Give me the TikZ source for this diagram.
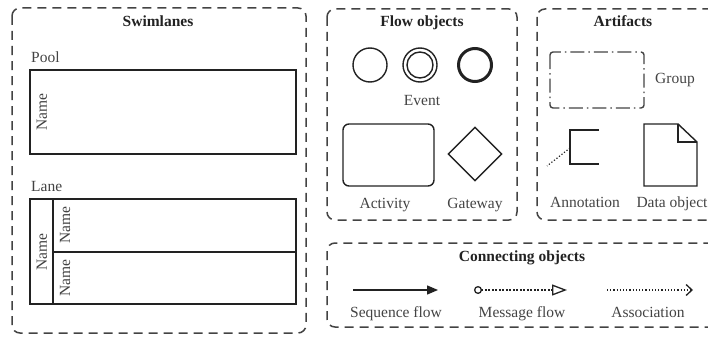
\documentclass[tikz,border=0pt]{standalone}
\usepackage{fontspec}
\setmainfont{Liberation Serif}
\usetikzlibrary{arrows.meta,shapes.geometric,shapes.misc}
\definecolor{ink}{HTML}{222222}
\tikzset{
  grp/.style={draw=ink!85,line width=1.5pt,dash pattern=on 9pt off 6pt,rounded corners=8pt},
  ttl/.style={font=\fontsize{15.5}{18}\selectfont\bfseries,text=ink,inner sep=0pt,anchor=base},
  lbl/.style={font=\fontsize{15.5}{18}\selectfont,text=ink!85,inner sep=0pt,anchor=base},
  rot/.style={font=\fontsize{15.5}{18}\selectfont,text=ink!85,inner sep=0pt,rotate=90},
  shp/.style={draw=ink,line width=1.4pt},
}
\begin{document}
\begin{tikzpicture}[x=1pt,y=-1pt]
\clip (0,0) rectangle (708,337);
\useasboundingbox (0,0) rectangle (708,337);
% group boxes
\draw[grp] (12,8) rectangle (306,333);
\draw[grp] (327,9) rectangle (517,220);
\draw[grp] (537,9) rectangle (730,220);
\draw[grp] (327,243) rectangle (730,327);
\node[ttl] (tswim) at (158,27) {Swimlanes};
\node[ttl] (tflow) at (422,27) {Flow objects};
\node[ttl] (tart) at (623,27) {Artifacts};
\node[ttl] (tconn) at (522,261) {Connecting objects};
% swimlanes
\node[lbl,anchor=base west] (lpool) at (31,62) {Pool};
\draw[shp] (30,70) rectangle (296,154);
\node[rot] (npool) at (42,112) {Name};
\node[lbl,anchor=base west] (llane) at (31,191) {Lane};
\draw[shp] (30,199) rectangle (296,304);
\draw[shp] (53,199) -- (53,304);
\draw[shp] (53,252) -- (296,252);
\node[rot] (nlane) at (42,252) {Name};
\node[rot] (nl1) at (65,225) {Name};
\node[rot] (nl2) at (65,278) {Name};
% flow objects
\node[shp,circle,minimum size=34pt,inner sep=0pt] (e1) at (370,65) {};
\node[shp,circle,minimum size=34pt,inner sep=0pt] (e2) at (420,65) {};
\node[shp,circle,minimum size=26pt,inner sep=0pt] (e2i) at (420,65) {};
\node[draw=ink,line width=3pt,circle,minimum size=33pt,inner sep=0pt] (e3) at (475,65) {};
\node[lbl] (tevent) at (422,105) {Event};
\draw[shp,rounded corners=6pt] (343,124) rectangle (434,186);
\node[shp,diamond,minimum width=54pt,minimum height=54pt,inner sep=0pt] (gw) at (475,154) {};
\node[lbl] (tact) at (385,208) {Activity};
\node[lbl] (tgw) at (475,208) {Gateway};
% artifacts
\draw[draw=ink!85,line width=1.4pt,dash pattern=on 14pt off 4pt on 1.5pt off 4pt,rounded corners=3pt] (550,52) rectangle (644,108);
\node[lbl] (tgroup) at (675,83) {Group};
\draw[shp] (599,130) -- (570,130) -- (570,164) -- (599,164);
\coordinate (annA) at (570,148);
\coordinate (annB) at (547,166);
\draw[draw=ink,line width=1.2pt,dotted] (annA) -- (annB);
\draw[shp,line join=miter] (644,124) -- (678,124) -- (697,142) -- (697,186) -- (644,186) -- cycle;
\draw[shp,line join=miter] (678,124) -- (678,142) -- (697,142);
\node[lbl] (tann) at (585,207) {Annotation};
\node[lbl] (tdata) at (672,207) {Data object};
% connecting objects
\coordinate (s1) at (353,290);
\coordinate (s2) at (438,290);
\draw[shp,-{Triangle[length=11pt,width=9pt]}] (s1) -- (s2);
\coordinate (m1) at (474,290);
\coordinate (m2) at (567,290);
\draw[draw=ink,line width=1.2pt,dash pattern=on 2pt off 1.5pt,{Circle[open,length=8pt,width=8pt,line width=1.3pt]}-{Triangle[open,length=15pt,width=11pt,line width=1.3pt]}] (m1) -- (m2);
\coordinate (a1) at (607,290);
\coordinate (a2) at (693,290);
\draw[draw=ink,line width=1.2pt,dotted,-{Straight Barb[length=6pt,width=11pt,line width=1.3pt]}] (a1) -- (a2);
\node[lbl] (tseq) at (396,317) {Sequence flow};
\node[lbl] (tmsg) at (522,317) {Message flow};
\node[lbl] (tass) at (648,317) {Association};
\end{tikzpicture}
\end{document}
